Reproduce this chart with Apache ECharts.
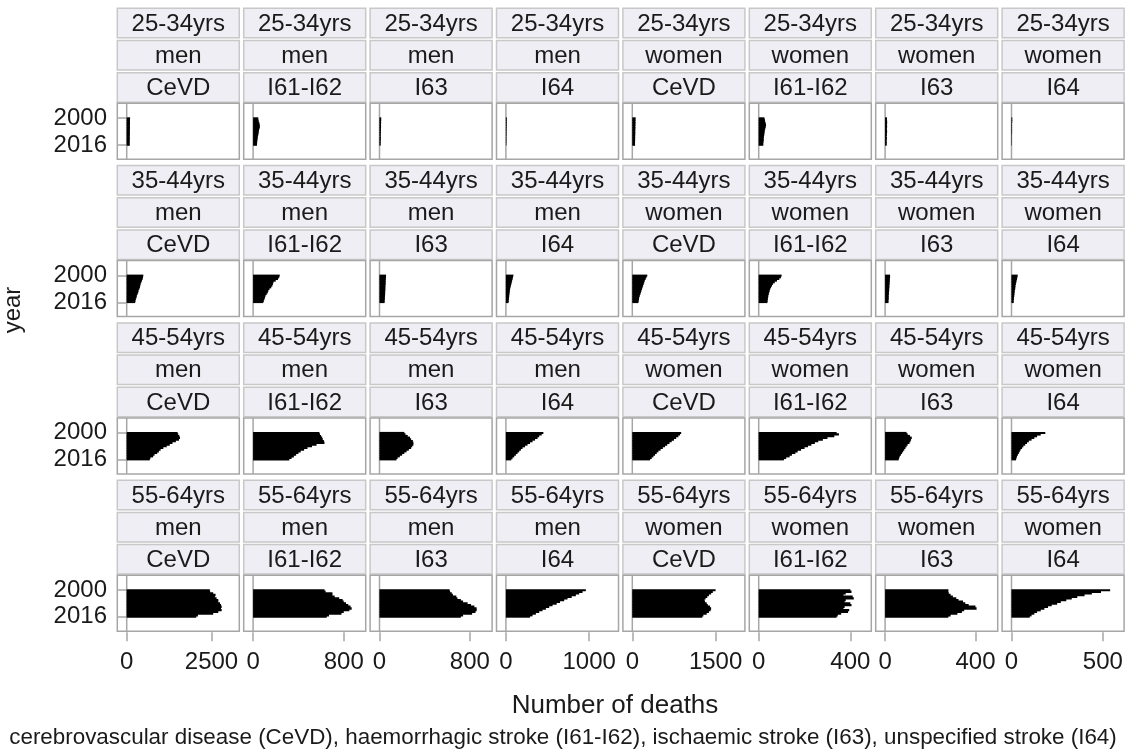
<!DOCTYPE html>
<html>
<head>
<meta charset="utf-8">
<script src="https://cdn.jsdelivr.net/npm/echarts@6/dist/echarts.min.js"></script>
<style>
html, body { margin: 0; padding: 0; background: #ffffff; }
#chart { width: 1126px; height: 754px; }
</style>
</head>
<body>
<div id="chart"></div>
<script>
// Year categories (rows of each bar panel, 2000 at the top)
const years = ['2000','2001','2002','2003','2004','2005','2006','2007','2008',
               '2009','2010','2011','2012','2013','2014','2015','2016'];

// Facet labels
const ageGroups = ['25-34yrs', '35-44yrs', '45-54yrs', '55-64yrs'];
const sexes = ['men', 'men', 'men', 'men', 'women', 'women', 'women', 'women'];
const causes = ['CeVD', 'I61-I62', 'I63', 'I64', 'CeVD', 'I61-I62', 'I63', 'I64'];

// x-axis tick label per column and the axis range of each column
const tickValues = [2500, 800, 800, 1000, 1500, 400, 400, 500];
const axisMax = [3290, 985, 988, 1340, 2010, 487, 494, 611];

// Number of deaths, 2000..2016 -- age 25-34
const a25_men_CeVD   = [100, 98, 96, 97, 95, 94, 96, 93, 92, 94, 91, 90, 92, 90, 89, 88, 90];
const a25_men_I61    = [45, 47, 50, 55, 58, 60, 57, 52, 50, 48, 45, 42, 40, 38, 36, 35, 34];
const a25_men_I63    = [15, 15, 14, 14, 13, 14, 13, 12, 12, 12, 11, 11, 12, 11, 10, 10, 10];
const a25_men_I64    = [10, 10, 9, 9, 9, 8, 8, 8, 7, 7, 7, 6, 6, 6, 6, 5, 5];
const a25_women_CeVD = [60, 58, 57, 58, 56, 55, 56, 54, 53, 54, 52, 51, 52, 50, 50, 49, 50];
const a25_women_I61  = [25, 27, 28, 30, 32, 31, 29, 27, 26, 25, 24, 23, 22, 22, 21, 20, 20];
const a25_women_I63  = [8, 8, 9, 9, 8, 9, 8, 8, 9, 8, 8, 7, 8, 7, 7, 7, 7];
const a25_women_I64  = [4, 4, 4, 3, 3, 3, 3, 3, 3, 3, 2, 2, 2, 2, 2, 2, 2];

// age 35-44
const a35_men_CeVD   = [490, 480, 470, 450, 430, 410, 400, 390, 370, 350, 340, 320, 300, 290, 270, 260, 250];
const a35_men_I61    = [235, 230, 220, 200, 180, 175, 170, 160, 145, 135, 130, 120, 110, 105, 100, 95, 90];
const a35_men_I63    = [58, 57, 56, 55, 55, 54, 53, 52, 52, 51, 50, 50, 49, 48, 47, 46, 45];
const a35_men_I64    = [90, 85, 80, 75, 70, 65, 60, 55, 50, 48, 45, 42, 40, 38, 36, 34, 32];
const a35_women_CeVD = [270, 255, 240, 225, 215, 205, 195, 185, 175, 165, 155, 145, 135, 125, 120, 115, 110];
const a35_women_I61  = [100, 97, 90, 80, 70, 62, 58, 54, 50, 48, 46, 44, 42, 41, 40, 39, 38];
const a35_women_I63  = [22, 22, 21, 21, 20, 20, 19, 19, 18, 18, 17, 17, 16, 16, 16, 15, 15];
const a35_women_I64  = [34, 32, 30, 28, 26, 24, 22, 21, 20, 18, 17, 16, 15, 14, 13, 12, 12];

// age 45-54
const a45_men_CeVD   = [1500, 1520, 1550, 1570, 1540, 1450, 1350, 1270, 1180, 1080, 1000, 950, 900, 820, 780, 700, 680];
const a45_men_I61    = [585, 590, 600, 610, 615, 625, 630, 560, 520, 480, 450, 420, 400, 380, 360, 340, 320];
const a45_men_I63    = [220, 230, 250, 270, 280, 295, 300, 300, 290, 280, 260, 240, 220, 200, 180, 160, 150];
const a45_men_I64    = [450, 430, 400, 380, 350, 320, 290, 260, 230, 200, 180, 160, 140, 120, 100, 80, 65];
const a45_women_CeVD = [880, 860, 830, 790, 750, 710, 670, 630, 590, 550, 510, 470, 440, 410, 380, 350, 320];
const a45_women_I61  = [340, 350, 330, 300, 280, 260, 245, 230, 215, 200, 185, 170, 160, 145, 135, 120, 110];
const a45_women_I63  = [95, 100, 110, 118, 115, 112, 108, 100, 95, 90, 85, 80, 75, 70, 65, 62, 60];
const a45_women_I64  = [185, 160, 140, 125, 110, 95, 85, 75, 65, 58, 50, 45, 40, 35, 30, 27, 25];

// age 55-64
const a55_men_CeVD   = [2450, 2460, 2550, 2620, 2600, 2650, 2700, 2700, 2750, 2780, 2800, 2780, 2800, 2700, 2550, 2100, 2050];
const a55_men_I61    = [630, 640, 700, 700, 720, 760, 790, 800, 820, 840, 860, 870, 850, 800, 780, 670, 650];
const a55_men_I63    = [620, 625, 640, 650, 680, 690, 720, 740, 780, 810, 840, 860, 860, 850, 820, 740, 720];
const a55_men_I64    = [960, 920, 880, 840, 790, 740, 700, 650, 610, 560, 520, 480, 440, 400, 360, 320, 290];
const a55_women_CeVD = [1500, 1450, 1420, 1380, 1350, 1320, 1300, 1310, 1340, 1360, 1400, 1420, 1410, 1380, 1340, 1280, 1260];
const a55_women_I61  = [400, 405, 380, 370, 410, 415, 380, 375, 400, 405, 375, 370, 395, 390, 360, 345, 340];
const a55_women_I63  = [280, 280, 282, 290, 300, 315, 325, 345, 355, 370, 400, 405, 350, 340, 320, 290, 280];
const a55_women_I64  = [540, 490, 440, 400, 360, 330, 300, 270, 250, 220, 200, 180, 160, 140, 125, 110, 100];

const panelData = [
  [a25_men_CeVD, a25_men_I61, a25_men_I63, a25_men_I64, a25_women_CeVD, a25_women_I61, a25_women_I63, a25_women_I64],
  [a35_men_CeVD, a35_men_I61, a35_men_I63, a35_men_I64, a35_women_CeVD, a35_women_I61, a35_women_I63, a35_women_I64],
  [a45_men_CeVD, a45_men_I61, a45_men_I63, a45_men_I64, a45_women_CeVD, a45_women_I61, a45_women_I63, a45_women_I64],
  [a55_men_CeVD, a55_men_I61, a55_men_I63, a55_men_I64, a55_women_CeVD, a55_women_I61, a55_women_I63, a55_women_I64]
];

// ---- layout ----
const FONT_FAMILY = '"Liberation Sans", Arial, sans-serif';
const FONT_SIZE = 24;
const TEXT_COLOR = '#1a1a1a';
const FRAME_COLOR = '#a6a6a6';
const STRIP_BORDER = '#c8c8c8';
const STRIP_FILL = '#eeeef4';

const COL0 = 117.3, COL_STEP = 126.4, PANEL_W = 122;
const ROW0 = 8.3, ROW_STEP = 157.3;
const STRIP_STEP = 32.2, STRIP_H = 29.5;
const BOX_OFFSET = 95, BOX_H = 56;
const ZERO_OFFSET = 9.4;          // x = 0 sits a little inside the panel frame
const BAR_TOP = 14, BAR_H = 28.5; // bar band inside the panel frame
const DATA_W = 111.6;
const BAR_THICK = 2.4;            // slightly thicker than one band so the bars close up

const grids = [], xAxes = [], yAxes = [], series = [], graphics = [];
const nRows = ageGroups.length, nCols = causes.length;

for (let r = 0; r < nRows; r++) {
  for (let c = 0; c < nCols; c++) {
    const bx = COL0 + c * COL_STEP;
    const rowTop = ROW0 + r * ROW_STEP;
    const boxTop = rowTop + BOX_OFFSET;
    const stripLabels = [ageGroups[r], sexes[c], causes[c]];

    stripLabels.forEach((label, i) => {
      const sy = rowTop + i * STRIP_STEP;
      graphics.push({
        type: 'rect', silent: true, z: 0,
        shape: { x: bx, y: sy, width: PANEL_W, height: STRIP_H },
        style: { fill: STRIP_FILL, stroke: STRIP_BORDER, lineWidth: 1.5 }
      });
      graphics.push({
        type: 'text', silent: true, z: 1,
        x: bx + PANEL_W / 2, y: sy + STRIP_H / 2 + 1,
        style: {
          text: label, align: 'center', verticalAlign: 'middle',
          font: FONT_SIZE + 'px ' + FONT_FAMILY, fill: TEXT_COLOR
        }
      });
    });

    // panel frame and zero line
    graphics.push({
      type: 'rect', silent: true, z: 0,
      shape: { x: bx, y: boxTop, width: PANEL_W, height: BOX_H },
      style: { fill: '#ffffff', stroke: FRAME_COLOR, lineWidth: 1.5 }
    });
    graphics.push({
      type: 'line', silent: true, z: 0,
      shape: { x1: bx + ZERO_OFFSET, y1: boxTop, x2: bx + ZERO_OFFSET, y2: boxTop + BOX_H },
      style: { stroke: FRAME_COLOR, lineWidth: 1.5 }
    });

    const idx = grids.length;
    grids.push({
      left: bx + ZERO_OFFSET, top: boxTop + BAR_TOP,
      width: DATA_W, height: BAR_H, containLabel: false
    });

    const bottomRow = r === nRows - 1;
    const tickVals = [0, tickValues[c]];
    xAxes.push({
      type: 'value', gridIndex: idx, min: 0, max: axisMax[c],
      show: bottomRow,
      offset: BOX_H - BAR_TOP - BAR_H + 1,
      axisLine: { show: false },
      axisTick: { show: true, length: 9, customValues: tickVals,
                  lineStyle: { color: FRAME_COLOR, width: 1.5 } },
      axisLabel: { show: true, customValues: tickVals, margin: 18,
                   formatter: (v) => String(v),
                   fontSize: FONT_SIZE, fontFamily: FONT_FAMILY, color: TEXT_COLOR,
                   showMinLabel: true, showMaxLabel: true },
      splitLine: { show: false }
    });

    const firstCol = c === 0;
    const edgeYear = (i) => i === 0 || i === years.length - 1;
    yAxes.push({
      type: 'category', gridIndex: idx, data: years, inverse: true,
      show: firstCol,
      offset: ZERO_OFFSET + 2.3,
      axisLine: { show: false },
      axisTick: { show: true, length: 9, alignWithLabel: true, interval: edgeYear,
                  lineStyle: { color: FRAME_COLOR, width: 1.5 } },
      axisLabel: { show: true, interval: edgeYear, margin: 8,
                   fontSize: FONT_SIZE, fontFamily: FONT_FAMILY, color: TEXT_COLOR },
      splitLine: { show: false }
    });

    series.push({
      type: 'bar', xAxisIndex: idx, yAxisIndex: idx,
      data: panelData[r][c],
      barWidth: BAR_THICK,
      itemStyle: { color: '#000000', borderWidth: 0 },
      silent: true, z: 2
    });
  }
}

// axis titles and footnote
graphics.push({
  type: 'text', silent: true, x: 13, y: 310, rotation: Math.PI / 2,
  style: { text: 'year', align: 'center', verticalAlign: 'middle',
           font: FONT_SIZE + 'px ' + FONT_FAMILY, fill: TEXT_COLOR }
});
graphics.push({
  type: 'text', silent: true, x: 615, y: 706,
  style: { text: 'Number of deaths', align: 'center', verticalAlign: 'middle',
           font: '26px ' + FONT_FAMILY, fill: TEXT_COLOR }
});
graphics.push({
  type: 'text', silent: true, x: 563, y: 738,
  style: { text: 'cerebrovascular disease (CeVD), haemorrhagic stroke (I61-I62), ischaemic stroke (I63), unspecified stroke (I64)',
           align: 'center', verticalAlign: 'middle',
           font: '22.4px ' + FONT_FAMILY, fill: TEXT_COLOR }
});

const chart = echarts.init(document.getElementById('chart'), null, { renderer: 'canvas' });
chart.setOption({
  backgroundColor: '#ffffff',
  animation: false,
  grid: grids,
  xAxis: xAxes,
  yAxis: yAxes,
  series: series,
  graphic: { elements: graphics }
});
</script>
</body>
</html>
